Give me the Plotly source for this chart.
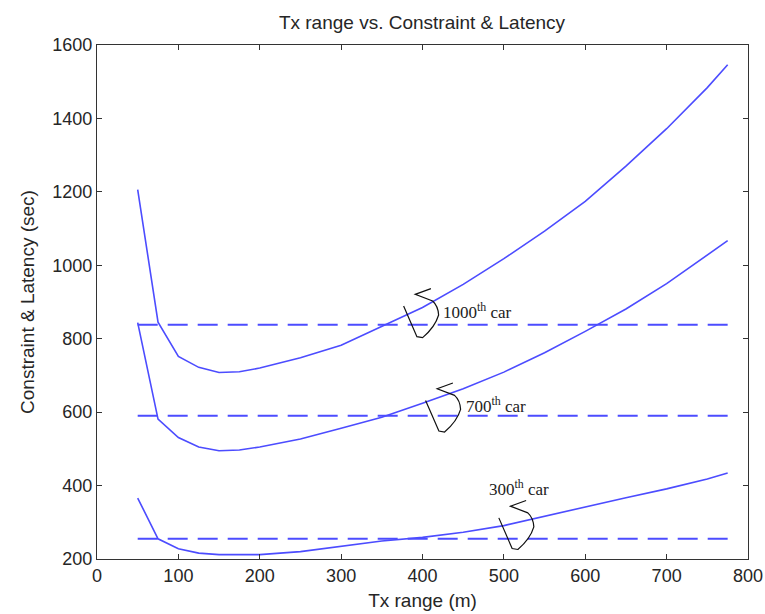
import plotly.graph_objects as go

tx_range = [50, 75, 100, 125, 150, 175, 200, 250, 300, 350, 400, 450, 500,
            550, 600, 650, 700, 750, 775]
car_1000 = [1206, 845, 752, 722, 708, 710, 720, 748, 782, 833, 885, 948, 1018,
            1093, 1174, 1270, 1372, 1484, 1546]
car_700 = [844, 581, 531, 505, 495, 497, 505, 527, 556, 586, 624, 664, 709,
           762, 820, 881, 950, 1028, 1067]
car_300 = [366, 255, 228, 216, 212, 211, 212, 220, 235, 249, 259, 273, 291,
           317, 343, 367, 391, 418, 434]
constraint_x = [50, 775]
constraint_1000 = 838
constraint_700 = 590
constraint_300 = 255

line_color = "#4c4cff"
fig = go.Figure()
for ys in (car_1000, car_700, car_300):
    fig.add_trace(go.Scatter(x=tx_range, y=ys, mode="lines",
                             line=dict(color=line_color, width=1.6),
                             showlegend=False, hoverinfo="skip"))
for c in (constraint_1000, constraint_700, constraint_300):
    fig.add_trace(go.Scatter(x=constraint_x, y=[c, c], mode="lines",
                             line=dict(color=line_color, width=2, dash="20px,10px"),
                             showlegend=False, hoverinfo="skip"))

# hand-drawn curly arrow, pixel offsets (y up) relative to an anchor point
arrow_px = [(13.3, 17.4), (-2.4, 11.7), (15.0, 5.0), (20.5, 0), (21.0, -9.0),
            (17.5, -21), (5.0, -31.6), (-0.7, -30.6), (-14.0, 0)]

def arrow_path(scale=1.0):
    pts = [(px * scale, py * scale) for px, py in arrow_px]
    p = "M %.1f,%.1f L %.1f,%.1f L %.1f,%.1f" % (pts[0] + pts[1] + pts[2])
    p += " Q %.1f,%.1f %.1f,%.1f" % (pts[3] + pts[4])
    p += " Q %.1f,%.1f %.1f,%.1f" % (pts[5] + pts[6])
    p += " L %.1f,%.1f L %.1f,%.1f" % (pts[7] + pts[8])
    return p

arrow_anchors = [(394, 889), (421, 632), (511, 312)]
for (ax, ay) in arrow_anchors:
    fig.add_shape(type="path", xref="x", yref="y", xsizemode="pixel",
                  ysizemode="pixel", xanchor=ax, yanchor=ay, path=arrow_path(),
                  line=dict(color="#111111", width=1.2))

text_font = dict(family="Liberation Serif, Times New Roman, serif", size=17,
                 color="#222222")
texts = [("1000<sup>th</sup> car", 441, 311, "left"),
         ("700<sup>th</sup> car", 464, 405, "left"),
         ("300<sup>th</sup> car", 519, 488, "center")]
for t, px, py, anc in texts:
    fig.add_annotation(text=t, xref="paper", yref="paper",
                       x=(px - 97) / 651, y=(559 - py) / 514,
                       xanchor=anc, yanchor="middle", showarrow=False,
                       font=text_font)

tick_font = dict(family="Liberation Sans, Arial, sans-serif", size=18, color="#262626")
title_font = dict(family="Liberation Sans, Arial, sans-serif", size=19, color="#262626")
fig.update_layout(
    width=765, height=614,
    margin=dict(l=97, r=17, t=45, b=55),
    paper_bgcolor="white", plot_bgcolor="white",
    title=dict(text="Tx range vs. Constraint & Latency", x=(422 / 765),
               xanchor="center", y=1 - 22 / 614, yanchor="middle",
               font=title_font),
    xaxis=dict(range=[0, 800], dtick=100, tick0=0, showgrid=False, zeroline=False,
               showline=True, linecolor="#333333", linewidth=1.2, mirror="ticks",
               ticks="inside", ticklen=5, tickcolor="#333333",
               tickfont=tick_font, automargin=False,
               title=dict(text="Tx range (m)", font=title_font, standoff=8)),
    yaxis=dict(range=[200, 1600], dtick=200, tick0=200, showgrid=False,
               zeroline=False, showline=True, linecolor="#333333", linewidth=1.2,
               mirror="ticks", ticks="inside", ticklen=5, tickcolor="#333333",
               tickfont=tick_font, automargin=False,
               title=dict(text="Constraint & Latency (sec)", font=title_font,
                          standoff=12)),
)
fig.write_html("out.html")
